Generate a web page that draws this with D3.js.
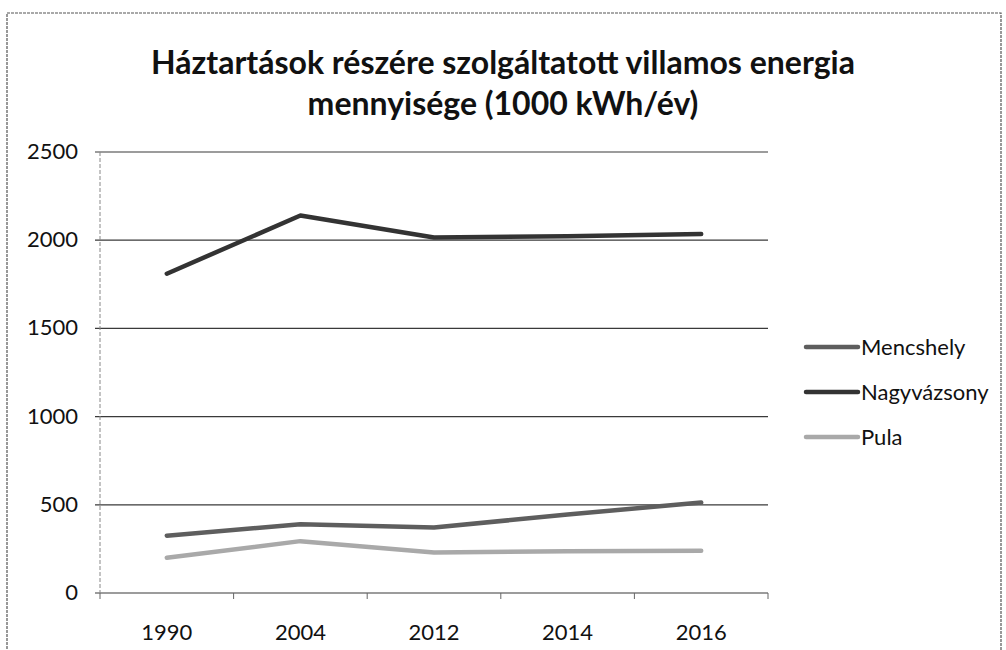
<!DOCTYPE html>
<html>
<head>
<meta charset="utf-8">
<script src="https://cdn.jsdelivr.net/npm/d3@7"></script>
<style>
  body { margin: 0; background: #fff; }
  svg { display: block; font-family: Lato, "Open Sans", sans-serif; }
</style>
</head>
<body>
<script>
var years = ["1990", "2004", "2012", "2014", "2016"];
var seriesNames = ["Mencshely", "Nagyvázsony", "Pula"];
var mencshely = [325, 390, 371, 445, 513];
var nagyvazsony = [1810, 2140, 2015, 2022, 2035];
var pula = [200, 294, 230, 237, 239];
var yTicks = [0, 500, 1000, 1500, 2000, 2500];
var colors = ["#5e5e5e", "#333333", "#a9a9a9"];

drawChart();

function drawChart() {
    var width = 1006, height = 650;
    var plotLeft = 100, plotRight = 768, plotTop = 152, plotBottom = 593;

    var svg = d3.select("body").append("svg")
        .attr("width", width)
        .attr("height", height);

    // outer chart frame (scanned page)
    svg.append("rect")
        .attr("x", 7).attr("y", 13)
        .attr("width", 994).attr("height", 660)
        .attr("fill", "none")
        .attr("stroke", "#555")
        .attr("stroke-width", 1.2)
        .attr("stroke-dasharray", "3,1");

    var title = svg.append("text")
        .attr("text-anchor", "middle")
        .attr("font-weight", "bold")
        .attr("font-size", 32)
        .attr("fill", "#111");
    title.append("tspan").attr("x", 503).attr("y", 74).text("Háztartások részére szolgáltatott villamos energia");
    title.append("tspan").attr("x", 503).attr("y", 115).text("mennyisége (1000 kWh/év)");

    var x = d3.scaleBand().domain(years).range([plotLeft, plotRight]);
    var y = d3.scaleLinear().domain([0, 2500]).range([plotBottom, plotTop]);

    // horizontal gridlines
    svg.append("g")
        .selectAll("line")
        .data(yTicks)
        .enter()
        .append("line")
        .attr("x1", plotLeft - 5).attr("x2", plotRight)
        .attr("y1", function (d) { return y(d); })
        .attr("y2", function (d) { return y(d); })
        .attr("stroke", "#3a3a3a")
        .attr("stroke-width", 1.2);

    // y axis line
    svg.append("line")
        .attr("x1", plotLeft).attr("x2", plotLeft)
        .attr("y1", plotTop).attr("y2", plotBottom)
        .attr("stroke", "#888")
        .attr("stroke-width", 1)
        .attr("stroke-dasharray", "4,2");

    // y labels
    svg.append("g")
        .selectAll("text")
        .data(yTicks)
        .enter()
        .append("text")
        .attr("x", 78)
        .attr("y", function (d) { return y(d) + 7; })
        .attr("text-anchor", "end")
        .attr("font-size", 22)
        .attr("fill", "#111")
        .text(function (d) { return d; });

    // x ticks
    var tickPos = years.map(function (d) { return x(d); }).concat([plotRight]);
    svg.append("g")
        .selectAll("line")
        .data(tickPos)
        .enter()
        .append("line")
        .attr("x1", function (d) { return d; })
        .attr("x2", function (d) { return d; })
        .attr("y1", plotBottom).attr("y2", plotBottom + 6)
        .attr("stroke", "#666");

    // x labels
    svg.append("g")
        .selectAll("text")
        .data(years)
        .enter()
        .append("text")
        .attr("x", function (d) { return x(d) + x.bandwidth() / 2; })
        .attr("y", 640)
        .attr("text-anchor", "middle")
        .attr("font-size", 22)
        .attr("fill", "#111")
        .text(function (d) { return d; });

    var line = d3.line()
        .x(function (d, i) { return x(years[i]) + x.bandwidth() / 2; })
        .y(function (d) { return y(d); });

    var allSeries = [mencshely, nagyvazsony, pula];

    svg.append("g")
        .selectAll("path")
        .data(allSeries)
        .enter()
        .append("path")
        .attr("d", line)
        .attr("fill", "none")
        .attr("stroke", function (d, i) { return colors[i]; })
        .attr("stroke-width", 4.5)
        .attr("stroke-linejoin", "round")
        .attr("stroke-linecap", "round");

    // legend
    var legend = svg.append("g")
        .selectAll("g")
        .data(seriesNames)
        .enter()
        .append("g")
        .attr("transform", function (d, i) { return "translate(0," + (347 + i * 45) + ")"; });

    legend.append("line")
        .attr("x1", 806).attr("x2", 858)
        .attr("y1", 0).attr("y2", 0)
        .attr("stroke", function (d, i) { return colors[i]; })
        .attr("stroke-width", 4.5)
        .attr("stroke-linecap", "round");

    legend.append("text")
        .attr("x", 861)
        .attr("y", 8)
        .attr("font-size", 22)
        .attr("fill", "#111")
        .text(function (d) { return d; });
}
</script>
</body>
</html>
